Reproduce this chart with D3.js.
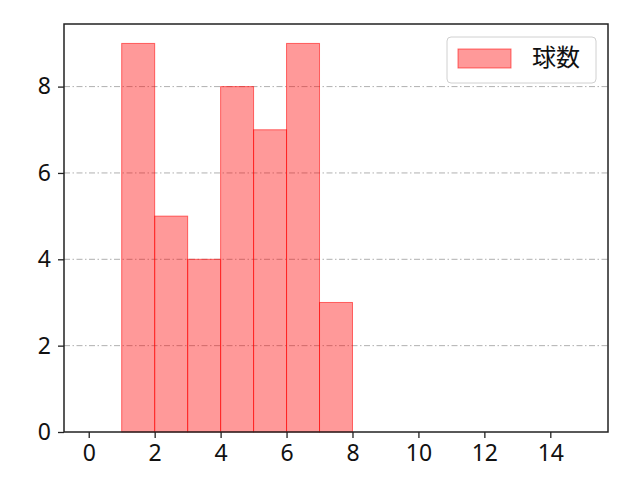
<!DOCTYPE html>
<html lang="ja">
<head>
  <meta charset="UTF-8" />
  <script src="https://d3js.org/d3.v7.min.js"></script>
  <style>
    body { margin: 0; background: #fff; }
    svg { display: block; }
  </style>
</head>
<body>
<svg id="chart" width="640" height="480"></svg>
<script>
  // histogram bins (left edges) and counts
  const binStarts = [1, 2, 3, 4, 5, 6, 7];
  const counts = [9, 5, 4, 8, 7, 9, 3];
  const binWidth = 1;
  const xTicks = [0, 2, 4, 6, 8, 10, 12, 14];
  const yTicks = [0, 2, 4, 6, 8];
  const seriesName = "球数";

  const tickFont = '"Noto Sans", sans-serif';
  const cjkFont = '"Noto Sans CJK JP", sans-serif';
  const svg = d3.select("#chart");
  const plotL = 64, plotR = 608, plotT = 24, plotB = 432;

  const x = d3.scaleLinear().domain([-0.75, 15.75]).range([plotL, plotR]);
  const y = d3.scaleLinear().domain([0, 9.45]).range([plotB, plotT]);

  // grid
  svg.append("g")
    .selectAll("line")
    .data(yTicks.filter(d => d > 0))
    .enter().append("line")
    .attr("x1", plotL).attr("x2", plotR)
    .attr("y1", d => y(d)).attr("y2", d => y(d))
    .style("stroke", "#b0b0b0")
    .style("stroke-width", 1)
    .style("stroke-dasharray", "6,2.5,1.5,2.5");

  // bars
  svg.append("g")
    .selectAll("rect")
    .data(binStarts.map((s, i) => ({ s, c: counts[i] })))
    .enter().append("rect")
    .attr("x", d => x(d.s))
    .attr("y", d => y(d.c))
    .attr("width", d => x(d.s + binWidth) - x(d.s))
    .attr("height", d => y(0) - y(d.c))
    .style("fill", "rgba(255,0,0,0.4)")
    .style("stroke", "rgba(255,0,0,0.55)")
    .style("stroke-width", 1);

  // axes
  const xAxis = svg.append("g")
    .attr("transform", `translate(0,${plotB})`)
    .call(d3.axisBottom(x).tickValues(xTicks).tickSize(6).tickPadding(7));
  const yAxis = svg.append("g")
    .attr("transform", `translate(${plotL},0)`)
    .call(d3.axisLeft(y).tickValues(yTicks).tickSize(6).tickPadding(7));
  [xAxis, yAxis].forEach(a => {
    a.attr("font-family", null).attr("font-size", null);
    a.select(".domain").remove();
    a.selectAll("line").style("stroke", "#222").style("stroke-width", 1.3);
    a.selectAll("text")
      .style("font-size", "23px")
      .style("fill", "#111")
      .style("font-family", tickFont);
  });

  // frame
  svg.append("rect")
    .attr("x", plotL).attr("y", plotT)
    .attr("width", plotR - plotL).attr("height", plotB - plotT)
    .style("fill", "none")
    .style("stroke", "#222")
    .style("stroke-width", 1.5);

  // legend
  const lg = svg.append("g");
  lg.append("rect")
    .attr("x", 447).attr("y", 37).attr("width", 149).attr("height", 46)
    .attr("rx", 4)
    .style("fill", "rgba(255,255,255,0.8)")
    .style("stroke", "#d0d0d0");
  lg.append("rect")
    .attr("x", 458).attr("y", 49).attr("width", 53).attr("height", 19)
    .style("fill", "rgba(255,0,0,0.4)")
    .style("stroke", "rgba(255,0,0,0.55)");
  lg.append("text")
    .attr("x", 532).attr("y", 58)
    .attr("dy", "0.35em")
    .style("font-size", "24px")
    .style("font-family", cjkFont)
    .style("fill", "#111")
    .text(seriesName);
</script>
</body>
</html>
